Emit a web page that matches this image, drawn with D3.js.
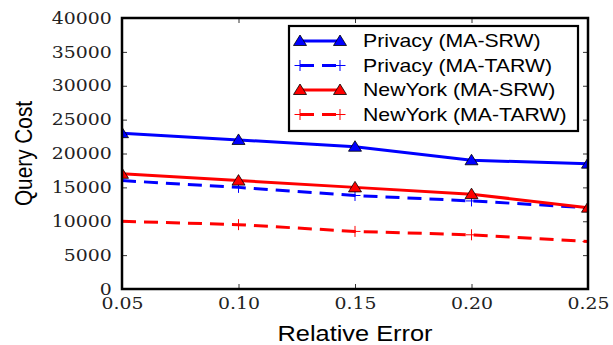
<!DOCTYPE html>
<html>
<head>
<meta charset="utf-8">
<script src="https://cdn.jsdelivr.net/npm/d3@7"></script>
<style>
  body { margin: 0; background: #fff; }
</style>
</head>
<body>
<div id="plot"></div>
<script>
// data
var errors = [0.05, 0.10, 0.15, 0.20, 0.25];
var privacySRW = [23000, 22000, 21000, 19000, 18500];
var privacyTARW = [16000, 15000, 13800, 13000, 12000];
var newyorkSRW = [17000, 16000, 15000, 14000, 12000];
var newyorkTARW = [10000, 9500, 8500, 8000, 7000];
var xTicks = [0.05, 0.10, 0.15, 0.20, 0.25];
var yTicks = [0, 5000, 10000, 15000, 20000, 25000, 30000, 35000, 40000];
var seriesNames = ["Privacy (MA-SRW)", "Privacy (MA-TARW)", "NewYork (MA-SRW)", "NewYork (MA-TARW)"];

var series = [
  { name: seriesNames[0], values: privacySRW, color: "#0000ff", dashed: false, marker: "tri" },
  { name: seriesNames[1], values: privacyTARW, color: "#0000ff", dashed: true, marker: "plus" },
  { name: seriesNames[2], values: newyorkSRW, color: "#ff0000", dashed: false, marker: "tri" },
  { name: seriesNames[3], values: newyorkTARW, color: "#ff0000", dashed: true, marker: "plus" }
];

var W = 613, H = 345;
var margin = { top: 18, right: 25, bottom: 56, left: 122 },
  width = W - margin.left - margin.right,
  height = H - margin.top - margin.bottom;

// the original figure is a bit wider than tall, so text gets stretched
var stretch = "scale(1.18,1)";

var root = d3.select("#plot").append("svg")
  .attr("width", W)
  .attr("height", H);

var svg = root.append("g")
  .attr("transform", "translate(" + margin.left + "," + margin.top + ")");

var x = d3.scaleLinear().domain([0.05, 0.25]).range([0, width]);
var y = d3.scaleLinear().domain([0, 40000]).range([height, 0]);

svg.append("clipPath").attr("id", "clip")
  .append("rect").attr("width", width).attr("height", height);

var serif = "'DejaVu Serif', 'Liberation Serif', serif";
var sans = "'Liberation Sans', Arial, sans-serif";

// inner ticks on all four sides
function styleAxis(g) {
  g.select(".domain").remove();
  g.selectAll("line").attr("stroke", "#333").attr("stroke-width", 1);
}
svg.append("g")
  .attr("transform", "translate(0," + height + ")")
  .call(d3.axisBottom(x).tickValues(xTicks).tickSize(-5).tickPadding(8.5).tickFormat(d3.format(".2f")))
  .call(styleAxis)
  .selectAll("text")
  .attr("transform", stretch)
  .style("font-family", serif).style("font-size", "16px").attr("fill", "#222");
svg.append("g")
  .call(d3.axisTop(x).tickValues(xTicks).tickSize(-5).tickFormat(""))
  .call(styleAxis);
svg.append("g")
  .call(d3.axisLeft(y).tickValues(yTicks).tickSize(-5).tickPadding(8.7).tickFormat(d3.format("d")))
  .call(styleAxis)
  .selectAll("text")
  .attr("transform", stretch)
  .style("font-family", serif).style("font-size", "16px").attr("fill", "#222");
svg.append("g")
  .attr("transform", "translate(" + width + ",0)")
  .call(d3.axisRight(y).tickValues(yTicks).tickSize(-5).tickFormat(""))
  .call(styleAxis);

// lines and markers
var line = d3.line()
  .x(function (d, i) { return x(errors[i]); })
  .y(function (d) { return y(d); });

var plotArea = svg.append("g").attr("clip-path", "url(#clip)");

function drawMarker(g, type, color) {
  if (type == "tri") {
    g.append("path")
      .attr("d", "M0,-6L6.5,4.5H-6.5Z")
      .attr("fill", color)
      .attr("stroke", "#000")
      .attr("stroke-width", 0.8);
  } else {
    g.append("path")
      .attr("d", "M-5.5,0H5.5M0,-5.5V5.5")
      .attr("stroke", color)
      .attr("stroke-width", 1);
  }
}

series.forEach(function (s) {
  plotArea.append("path")
    .datum(s.values)
    .attr("d", line)
    .attr("fill", "none")
    .attr("stroke", s.color)
    .attr("stroke-width", 3)
    .attr("stroke-dasharray", s.dashed ? "14,8" : null);
  s.values.forEach(function (v, i) {
    var g = plotArea.append("g")
      .attr("transform", "translate(" + x(errors[i]) + "," + y(v) + ")");
    drawMarker(g, s.marker, s.color);
  });
});

// frame
svg.append("rect")
  .attr("width", width).attr("height", height)
  .attr("fill", "none").attr("stroke", "#000").attr("stroke-width", 2.5);

// axis titles
svg.append("g")
  .attr("transform", "translate(" + (width / 2) + "," + (height + 51.5) + ")")
  .append("text")
  .attr("transform", stretch)
  .attr("text-anchor", "middle")
  .style("font-family", sans).style("font-size", "21.5px")
  .text("Relative Error");
svg.append("text")
  .attr("transform", "translate(" + (-90) + "," + (height / 2 + 0) + ") rotate(-90) scale(1,1.18)")
  .attr("text-anchor", "middle")
  .style("font-family", sans).style("font-size", "20.8px")
  .text("Query Cost");

// legend
var legend = svg.append("g").attr("transform", "translate(" + (289 - margin.left) + "," + (26 - margin.top) + ")");
legend.append("rect")
  .attr("width", 289).attr("height", 105)
  .attr("fill", "#fff").attr("stroke", "#000").attr("stroke-width", 2.2);
series.forEach(function (s, i) {
  var row = legend.append("g").attr("transform", "translate(0," + (15 + i * 24.5) + ")");
  row.append("line")
    .attr("x1", 11).attr("x2", 51).attr("y1", 0).attr("y2", 0)
    .attr("stroke", s.color).attr("stroke-width", 3)
    .attr("stroke-dasharray", s.dashed ? "14,8" : null);
  [11, 51].forEach(function (mx) {
    var g = row.append("g").attr("transform", "translate(" + mx + ",0)");
    drawMarker(g, s.marker, s.color);
  });
  row.append("g")
    .attr("transform", "translate(74,0)")
    .append("text")
    .attr("transform", stretch)
    .attr("dy", "0.36em")
    .style("font-family", sans).style("font-size", "18px")
    .text(s.name);
});
</script>
</body>
</html>
